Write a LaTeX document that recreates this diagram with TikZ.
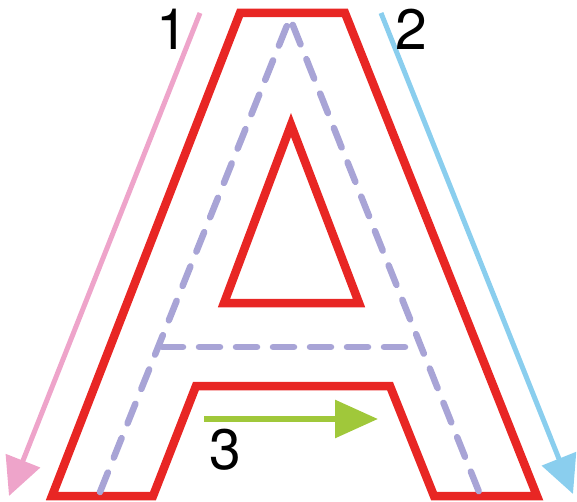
\documentclass[tikz,border=0pt]{standalone}
\usepackage{fontspec}
\setmainfont{TeX Gyre Heros}
\usetikzlibrary{arrows.meta}
\definecolor{letterred}{RGB}{232,38,36}
\definecolor{guidelav}{RGB}{168,164,214}
\definecolor{strokepink}{RGB}{238,164,202}
\definecolor{strokeblue}{RGB}{138,206,238}
\definecolor{strokegreen}{RGB}{160,200,58}
\tikzset{
  outline/.style={draw=letterred,line width=8.5pt,line join=miter},
  guideline/.style={draw=guidelav,line width=6.5pt,line cap=round,
    dash pattern=on 21pt off 16pt},
  strokearrow/.style={line width=5pt,-{Triangle[length=38pt,width=36pt]}},
  numlabel/.style={font=\fontsize{57}{60}\selectfont,inner sep=0pt}
}

\begin{document}
\begin{tikzpicture}[x=1pt,y=-1pt]
\useasboundingbox (0,0) rectangle (577,502);
% letter outline
\draw[outline] (52,496) -- (240,13) -- (345,13) -- (537,496) -- (434,496)
  -- (390,386) -- (196,386) -- (153,496) -- cycle;
\draw[outline] (291,125) -- (359,303) -- (224,303) -- cycle;
% dashed centre line
\draw[guideline] (100,492) -- (290,18) -- (479,492);
\draw[guideline] (162,347) -- (418,347);
% stroke order
\coordinate (s1) at (200,13);
\coordinate (e1) at (9,496);
\coordinate (s2) at (381,13);
\coordinate (e2) at (573,494);
\coordinate (s3) at (204,419);
\coordinate (e3) at (378,419);
\draw[strokearrow,strokepink] (s1) -- (e1);
\draw[strokearrow,strokeblue] (s2) -- (e2);
\draw[strokearrow,strokegreen,line width=6pt,-{Triangle[length=43pt,width=37pt]}] (s3) -- (e3);
\node[numlabel] (n1) at (172,29) {1};
\node[numlabel] (n2) at (411,29) {2};
\node[numlabel] (n3) at (225,450) {3};
\end{tikzpicture}
\end{document}
